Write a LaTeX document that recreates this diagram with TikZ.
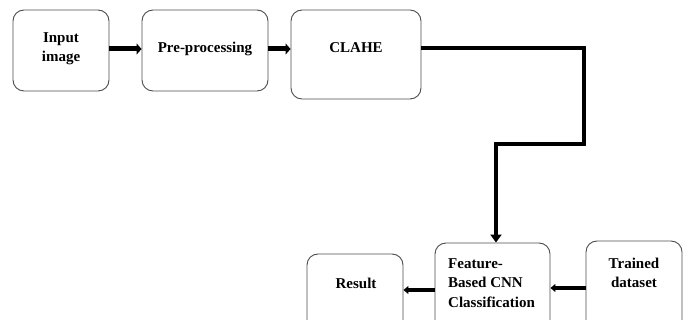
\documentclass[tikz,border=0pt]{standalone}
\usepackage{fontspec}
\setmainfont{Liberation Serif}
\usetikzlibrary{arrows.meta,calc}
\tikzset{
  box/.style={draw=black!70, line width=0.9pt, rounded corners=11pt, inner sep=0pt},
  lbl/.style={font=\fontsize{15}{19.5}\selectfont\bfseries, align=center, inner sep=0pt},
  bigarrow/.style={line width=5pt, -{Triangle[length=5pt,width=11pt]}},
  midarrow/.style={line width=4pt, -{Triangle[length=8pt,width=11pt]}},
  smallarrow/.style={line width=3.5pt, -{Triangle[length=5pt,width=8pt]}}
}
\begin{document}
\begin{tikzpicture}[x=1pt,y=1pt]
\useasboundingbox (0,0) rectangle (687,320);
\clip (0,0) rectangle (687,320);
% boxes
\node[box, minimum width=96pt, minimum height=81pt] (in) at (61,269.5) {};
\node[box, minimum width=126pt, minimum height=81pt] (pre) at (205,269.5) {};
\node[box, minimum width=130pt, minimum height=89pt] (clahe) at (356,265.5) {};
\node[box, minimum width=115pt, minimum height=100pt] (feat) at (492.5,27) {};
\node[box, minimum width=96pt, minimum height=100pt] (trained) at (634,29) {};
\node[box, minimum width=96pt, minimum height=90pt] (result) at (355,21) {};
% texts
\node[lbl] (tin) at (61,271) {Input\\image};
\node[lbl] (tpre) at (205,271.5) {Pre-processing};
\node[lbl] (tclahe) at (356,272.5) {CLAHE};
\node[lbl, align=left, anchor=west] (tfeat) at (448,37) {Feature-\\Based CNN\\Classification};
\node[lbl] (ttrained) at (634,47) {Trained\\dataset};
\node[lbl] (tresult) at (356,37) {Result};
% connectors
\draw[bigarrow] (in.east |- 0,271) -- (pre.west |- 0,271);
\draw[bigarrow] (pre.east |- 0,271) -- (clahe.west |- 0,271);
\coordinate (c1) at (584,272);
\coordinate (c2) at (584,176);
\coordinate (c3) at (496,176);
\draw[midarrow] (clahe.east |- c1) -- (c1) -- (c2) -- (c3) -- (feat.north -| c3);
\draw[smallarrow] (feat.west |- 0,30) -- (result.east |- 0,30);
\draw[smallarrow] (trained.west |- 0,32) -- (feat.east |- 0,32);
\end{tikzpicture}
\end{document}
